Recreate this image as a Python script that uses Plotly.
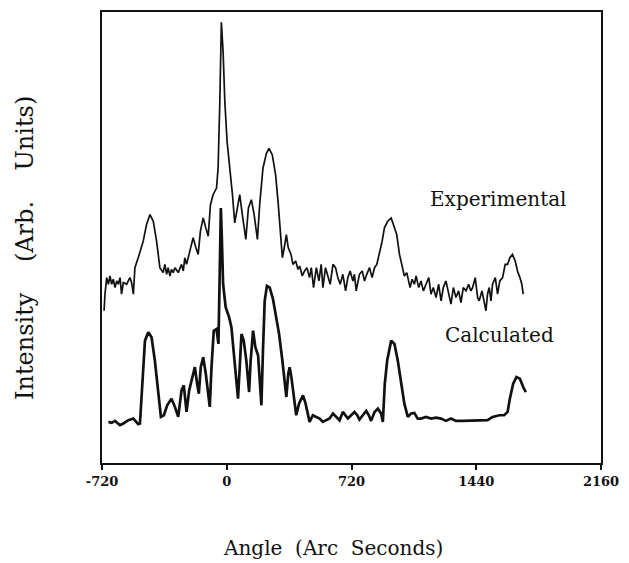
import plotly.graph_objects as go

# Experimental rocking curve (angle in arc seconds, intensity in arbitrary units)
exp_angle = [-708, -703, -693, -683, -674, -664, -655, -645, -635, -626, -616, -607, -597, -578, -559, -549,
             -539, -530, -511, -482, -463, -443, -424, -405, -386, -367, -357, -347, -338, -328, -319, -309,
             -299, -280, -261, -251, -242, -232, -213, -194, -178, -165, -152, -136, -121, -107, -94, -79,
             -59, -50, -40, -31, -21, -11, 2, 17, 33, 46, 60, 75, 90, 110, 125, 142, 158, 177, 190, 209,
             229, 244, 263, 282, 296, 309, 321, 332, 344, 355, 371, 382, 398, 411, 421, 436, 449, 463, 478,
             488, 501, 517, 532, 545, 555, 570, 584, 597, 613, 628, 641, 655, 670, 686, 699, 712, 728, 737,
             747, 766, 782, 795, 808, 824, 839, 853, 866, 881, 897, 910, 929, 949, 968, 981, 997, 1012,
             1025, 1039, 1050, 1058, 1070, 1083, 1093, 1108, 1121, 1135, 1150, 1166, 1179, 1192, 1208,
             1223, 1237, 1250, 1265, 1281, 1294, 1308, 1323, 1338, 1352, 1365, 1381, 1396, 1409, 1419,
             1434, 1448, 1457, 1473, 1486, 1496, 1505, 1515, 1525, 1534, 1550, 1563, 1576, 1592, 1607,
             1621, 1634, 1649, 1665, 1678, 1692, 1703, 1711]
exp_int = [45.9, 50.9, 55.9, 53.9, 56.4, 53.9, 55.4, 52.9, 54.9, 53.9, 55.9, 50.9, 54.4, 53.9, 55.9, 54.4,
           50.9, 58.9, 61.9, 66.9, 71.9, 74.9, 72.9, 66.9, 58.9, 57.4, 59.9, 56.9, 58.9, 56.4, 58.4, 57.4,
           58.9, 57.4, 59.9, 57.9, 61.9, 59.9, 63.9, 67.9, 64.9, 62.9, 69.9, 73.9, 70.9, 68.4, 77.9, 80.9,
           82.9, 88.9, 108.9, 132.9, 123.9, 108.9, 96.9, 89.9, 80.9, 72.4, 76.9, 80.9, 74.9, 67.4, 76.9,
           79.4, 74.9, 67.4, 77.9, 88.9, 93.4, 94.9, 92.9, 86.9, 78.9, 69.9, 61.9, 64.9, 68.9, 64.9, 62.9,
           59.9, 60.9, 58.4, 59.4, 56.4, 57.9, 58.9, 55.9, 58.9, 52.9, 58.9, 54.9, 59.9, 52.9, 58.9, 55.9,
           53.9, 59.9, 58.9, 55.9, 53.9, 56.9, 51.9, 55.9, 57.9, 54.9, 56.9, 51.9, 56.9, 57.9, 54.9, 56.9,
           58.9, 55.9, 58.9, 59.9, 62.9, 66.9, 70.9, 72.9, 73.9, 70.9, 68.9, 62.9, 58.9, 56.4, 57.4, 54.9,
           52.9, 55.4, 53.9, 56.4, 52.9, 54.9, 51.9, 53.9, 55.9, 50.9, 52.9, 49.9, 53.9, 48.9, 52.9, 54.9,
           50.9, 47.9, 52.9, 49.9, 51.9, 48.4, 52.9, 51.9, 53.9, 51.9, 52.9, 55.9, 49.9, 48.9, 51.9, 47.9,
           45.9, 50.9, 52.9, 48.9, 53.9, 55.9, 50.9, 54.9, 55.9, 59.9, 59.9, 61.9, 62.9, 60.9, 57.9, 55.9,
           53.9, 50.9]

# Calculated rocking curve
calc_angle = [-683, -664, -645, -616, -597, -568, -539, -511, -501, -486, -472, -453, -434, -415, -395,
              -380, -363, -344, -319, -299, -280, -261, -248, -232, -217, -203, -184, -171, -161, -150,
              -136, -121, -98, -88, -75, -59, -48, -40, -34, -29, -21, -6, 14, 27, 40, 65, 75, 85, 98,
              113, 129, 138, 152, 165, 181, 200, 209, 219, 232, 248, 267, 282, 302, 321, 344, 355, 363,
              373, 386, 401, 417, 440, 455, 478, 497, 517, 536, 555, 574, 593, 613, 632, 651, 670, 686,
              699, 718, 737, 753, 766, 785, 805, 820, 833, 853, 872, 891, 901, 912, 926, 949, 968, 987,
              1006, 1025, 1045, 1064, 1083, 1102, 1121, 1150, 1179, 1208, 1237, 1265, 1294, 1323, 1361,
              1400, 1438, 1477, 1505, 1534, 1573, 1601, 1621, 1634, 1653, 1672, 1692, 1711, 1726]
calc_int = [12.4, 12.1, 12.7, 11.4, 11.9, 12.9, 13.4, 11.7, 11.9, 23.9, 36.9, 39.4, 37.9, 30.9, 20.9,
            13.9, 14.4, 17.4, 19.4, 16.9, 13.9, 21.9, 23.4, 15.4, 21.9, 24.9, 28.9, 23.9, 20.9, 28.9,
            31.9, 26.9, 16.9, 28.9, 39.9, 40.4, 35.9, 58.9, 76.9, 68.9, 53.9, 46.9, 43.9, 40.9, 33.9,
            19.4, 28.9, 38.9, 36.9, 30.9, 21.4, 30.9, 39.9, 34.9, 32.4, 17.4, 33.9, 48.9, 53.4, 52.9,
            49.4, 44.9, 38.9, 30.9, 19.9, 26.9, 28.9, 25.9, 19.9, 14.4, 17.9, 20.4, 17.9, 12.4, 14.4,
            13.9, 13.4, 12.4, 12.9, 13.4, 14.9, 13.9, 12.9, 15.4, 14.4, 13.4, 14.4, 15.4, 14.4, 13.1,
            14.4, 15.7, 14.4, 12.7, 15.4, 16.4, 14.9, 12.4, 23.9, 30.9, 36.9, 35.9, 30.9, 24.9, 17.9,
            13.9, 14.9, 15.1, 13.4, 13.4, 13.9, 13.4, 13.7, 13.4, 12.7, 13.4, 12.7, 12.7, 12.7, 12.9,
            12.7, 12.9, 13.9, 14.4, 14.4, 15.4, 19.4, 23.9, 25.9, 25.4, 22.9, 21.4]

x_ticks = [-720, 0, 720, 1440, 2160]
x_tick_labels = ["-720", "0", "720", "1440", "2160"]
labels = ["Experimental", "Calculated"]

SERIF = "DejaVu Serif"

fig = go.Figure()
fig.add_trace(go.Scatter(x=exp_angle, y=exp_int, mode="lines",
                         line=dict(color="#111111", width=1.7), name=labels[0], showlegend=False))
fig.add_trace(go.Scatter(x=calc_angle, y=calc_int, mode="lines",
                         line=dict(color="#111111", width=2.7), name=labels[1], showlegend=False))

fig.add_annotation(x=1570, y=79.5, text=labels[0], showarrow=False,
                   font=dict(family=SERIF, size=20, color="#111111"))
fig.add_annotation(x=1575, y=38.5, text=labels[1], showarrow=False,
                   font=dict(family=SERIF, size=20, color="#111111"))

fig.add_annotation(text="Angle  (Arc  Seconds)", xref="paper", yref="paper", x=0.462, y=-0.188,
                   showarrow=False, yanchor="middle", xanchor="center",
                   font=dict(family=SERIF, size=20, color="#111111"))
fig.add_annotation(text="Intensity    (Arb.    Units)", xref="paper", yref="paper", x=-0.154, y=0.477,
                   showarrow=False, textangle=-90, xanchor="center", yanchor="middle",
                   font=dict(family=SERIF, size=24, color="#111111"))

fig.update_layout(
    width=629, height=563,
    margin=dict(l=102, r=28, t=10, b=100),
    paper_bgcolor="white", plot_bgcolor="white",
    xaxis=dict(range=[-720, 2160], tickvals=x_ticks, ticktext=x_tick_labels,
               showgrid=False, zeroline=False, showline=True, mirror=True,
               linecolor="#111111", linewidth=2, ticks="outside", ticklen=5,
               tickwidth=1.5, tickcolor="#111111",
               tickfont=dict(family=SERIF, size=13, color="#111111", weight="bold")),
    yaxis=dict(range=[0, 136], showticklabels=False, showgrid=False, zeroline=False,
               showline=True, mirror=True, linecolor="#111111", linewidth=2, ticks=""),
)

fig.write_html("out.html")
